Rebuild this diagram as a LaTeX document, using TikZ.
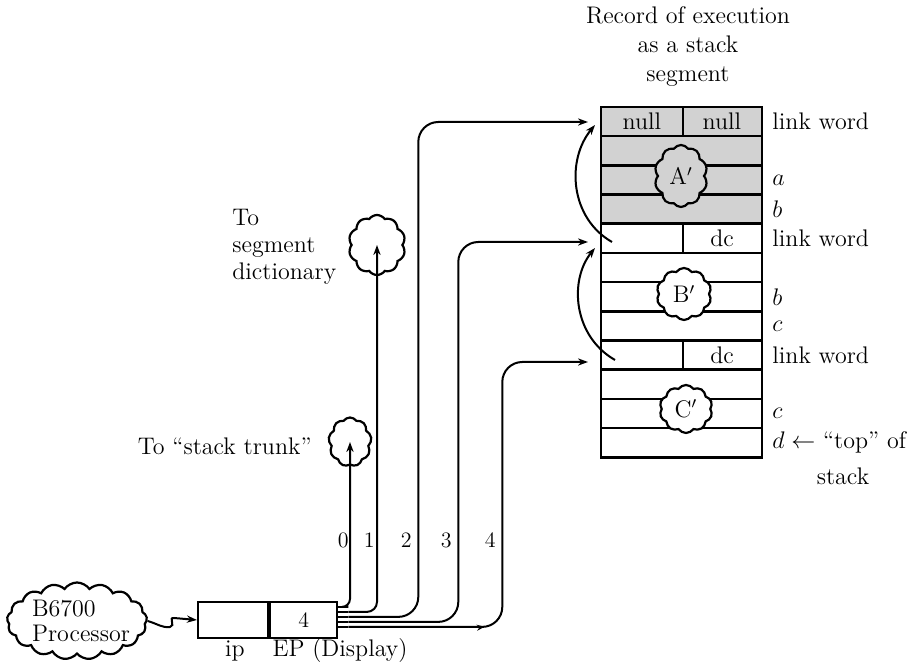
\documentclass[tikz,border=0pt]{standalone}
\usetikzlibrary{arrows.meta,shapes.symbols,positioning,decorations.markings}
\tikzset{
  txt/.style={font=\fontsize{12}{14.5}\selectfont, inner sep=1pt},
  num/.style={font=\fontsize{11}{13}\selectfont, inner sep=1pt},
  ptr/.style={line width=1pt, -{Stealth[length=5pt,width=3.6pt]}},
  midtip/.style={postaction={decorate}, decoration={markings,
    mark=at position #1 with {\arrow{Stealth[length=4pt,width=3pt]}}}},
  puff/.style={cloud, cloud puffs=10, cloud puff arc=110, draw, line width=1.1pt,
    fill=white, inner sep=0pt, cloud ignores aspect},
  regbox/.style={draw, line width=1.1pt, minimum height=18pt, inner sep=0pt},
  row/.style={line width=1.3pt}
}
\begin{document}
\begin{tikzpicture}[x=0.5pt,y=-0.5pt]
\useasboundingbox (0,0) rectangle (923,672);
\fill[gray!35] (601,107) rectangle (762,223.8);
\foreach \i in {1,...,11}
  \draw[row] (601,{107+29.2*\i}) -- (762,{107+29.2*\i});
\draw[row] (601,107) rectangle (762,457.4);
\foreach \i in {0,4,8}
  \draw[row] (683,{107+29.2*\i}) -- (683,{107+29.2*(\i+1)});
\node[txt] (null1) at (642,121.6) {null};
\node[txt] (null2) at (722,121.6) {null};
\node[txt] (dc1) at (722,238.4) {dc};
\node[txt] (dc2) at (722,355.2) {dc};
\node[puff, txt, fill=gray!35, minimum width=26.5pt, minimum height=31pt] (A) at (681,176) {A$'$};
\node[puff, txt, minimum width=27.5pt, minimum height=26pt] (B) at (684,294) {B$'$};
\node[puff, txt, minimum width=26.5pt, minimum height=24pt] (C) at (686,409) {C$'$};
\node[txt, align=center] (title) at (688,47) {Record of execution\\as a stack\\segment};
\node[txt, anchor=west] (lw1) at (770,121.6) {link word};
\node[txt, anchor=west] (va) at (770,180) {$a$};
\node[txt, anchor=west] (vb1) at (770,209.2) {$b$};
\node[txt, anchor=west] (lw2) at (770,238.4) {link word};
\node[txt, anchor=west] (vb2) at (770,296.8) {$b$};
\node[txt, anchor=west] (vc1) at (770,326) {$c$};
\node[txt, anchor=west] (lw3) at (770,355.2) {link word};
\node[txt, anchor=west] (vc2) at (770,413.6) {$c$};
\node[txt, anchor=west] (vd) at (770,442.8) {$d\leftarrow$ ``top'' of};
\node[txt] (stk) at (843,476) {stack};
\coordinate (up0) at (595,125);
\coordinate (dn0) at (612,242);
\draw[ptr] (dn0) .. controls (570,218) and (566,160) .. (up0);
\coordinate (up1) at (595,248);
\coordinate (dn1) at (615,360);
\draw[ptr] (dn1) .. controls (573,336) and (569,280) .. (up1);
\coordinate (p2) at (588,122);
\coordinate (p3) at (588,242);
\coordinate (p4) at (588,362);
\node[regbox, minimum width=35pt] (ip) at (233,620) {};
\node[regbox, num, minimum width=33.5pt, right=0pt of ip] (ep) {4};
\node[txt] (iplab) at (235,651) {ip};
\node[txt] (eplab) at (340,651) {EP (Display)};
\foreach \k in {0,...,4}
  \draw[line width=1pt] (ep.north east) ++(0,{6+5*\k}) -- ++(10,0) coordinate (t\k);
\node[puff, cloud puffs=9, minimum width=21.5pt, minimum height=24.5pt] (trunk) at (350,442) {};
\node[puff, minimum width=28.5pt, minimum height=30pt] (dict) at (377,245) {};
\node[txt, anchor=east] (trunklab) at (314,446) {To ``stack trunk''};
\node[txt, anchor=west, align=left, font=\fontsize{12}{13.5}\selectfont] (dictlab) at (230,247) {To\\segment\\dictionary};
\draw[ptr, rounded corners=4pt] (t0) -| (trunk.center);
\draw[ptr, rounded corners=5pt] (t1) -| (dict.center);
\draw[ptr, rounded corners=10pt] (t2) -- ++(70,0) |- (p2);
\draw[ptr, rounded corners=10pt] (t3) -- ++(110,0) |- (p3);
\draw[ptr, rounded corners=10pt, midtip=0.28] (t4) -- ++(154,0) |- (p4);
\node[num, anchor=east] (n0) at (351,540) {0};
\node[num, anchor=east] (n1) at (377,540) {1};
\node[num, anchor=east] (n2) at (414,540) {2};
\node[num, anchor=east] (n3) at (454,540) {3};
\node[num, anchor=east] (n4) at (498,540) {4};
\node[puff, cloud puffs=17, minimum width=70pt, minimum height=38.5pt] (proc) at (77,621) {};
\node[txt, align=left, font=\fontsize{12}{12.5}\selectfont] (proclab) at (81,621) {B6700\\Processor};
\draw[ptr] (proc.east) .. controls (158,624) and (162,628) .. (170,627)
  .. controls (176,626) and (168,617) .. (174,618) -- (ip.west);
\end{tikzpicture}
\end{document}
